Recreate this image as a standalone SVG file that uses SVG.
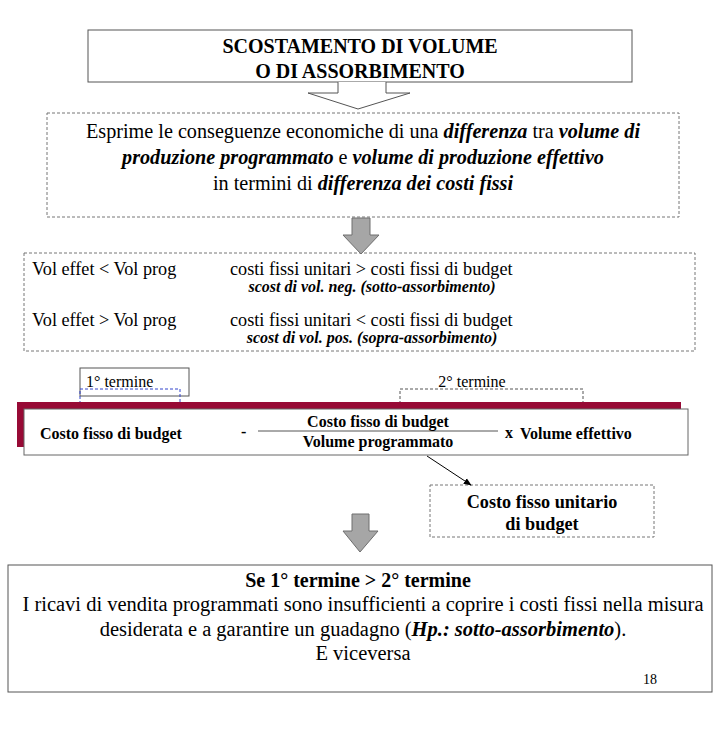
<svg xmlns="http://www.w3.org/2000/svg" width="720" height="729" viewBox="0 0 720 729">
<defs>
<style>
text{font-family:"Liberation Serif","Times New Roman",serif;fill:#000}
.b{font-weight:bold}
.bi{font-weight:bold;font-style:italic}
.c{text-anchor:middle}
.dash{fill:#fff;stroke:#777;stroke-width:1;stroke-dasharray:3,2}
.solid{fill:#fff;stroke:#555;stroke-width:1}
.garrow{fill:#a6a6a6;stroke:#6e6e6e;stroke-width:1}
</style>
<marker id="ah" viewBox="0 0 10 10" refX="9" refY="5" markerWidth="8" markerHeight="8" orient="auto">
<path d="M0,1 L10,5 L0,9 z" fill="#000"/>
</marker>
</defs>
<rect width="720" height="729" fill="#fff"/>

<g id="title">
<rect x="88" y="30" width="544" height="52" class="solid"/>
<text x="360" y="53" class="b c" font-size="20">SCOSTAMENTO DI VOLUME</text>
<text x="360" y="78" class="b c" font-size="20">O DI ASSORBIMENTO</text>
</g>

<g id="definition">
<rect x="47" y="113" width="632" height="104" class="dash"/>
<text x="363" y="138" class="c" font-size="20.2">Esprime le conseguenze economiche di una <tspan class="bi">differenza</tspan> tra <tspan class="bi">volume di</tspan></text>
<text x="363" y="164" class="c" font-size="20.2"><tspan class="bi">produzione programmato</tspan> e <tspan class="bi">volume di produzione effettivo</tspan></text>
<text x="363" y="190" class="c" font-size="20.2">in termini di <tspan class="bi">differenza dei costi fissi</tspan></text>
</g>

<g id="cases">
<rect x="24" y="253" width="671" height="98" class="dash"/>
<text x="32" y="275" font-size="18.2">Vol effet &lt; Vol prog</text>
<text x="230" y="275" font-size="18.2">costi fissi unitari &gt; costi fissi di budget</text>
<text x="372" y="292" class="bi c" font-size="16">scost di vol. neg. (sotto-assorbimento)</text>
<text x="32" y="326" font-size="18.2">Vol effet &gt; Vol prog</text>
<text x="230" y="326" font-size="18.2">costi fissi unitari &lt; costi fissi di budget</text>
<text x="372" y="343" class="bi c" font-size="16">scost di vol. pos. (sopra-assorbimento)</text>
</g>

<g id="term1">
<rect x="80" y="368" width="109" height="28" class="solid"/>
<text x="86" y="387" font-size="16">1° termine</text>
<path d="M80,404 V389 H180 V404" fill="none" stroke="#3344cc" stroke-width="1" stroke-dasharray="3,2"/>
</g>

<g id="term2">
<text x="472" y="387" class="c" font-size="16">2° termine</text>
<path d="M400,404 V389 H583 V404" fill="none" stroke="#555" stroke-width="1" stroke-dasharray="3,2"/>
</g>

<g id="formula">
<rect x="17" y="402" width="664" height="45" fill="#970a35"/>
<rect x="24" y="409" width="664" height="46" fill="#fff" stroke="#666" stroke-width="1"/>
<text x="40" y="439" class="b" font-size="16">Costo fisso di budget</text>
<text x="241" y="437" class="b" font-size="16">-</text>
<line x1="258" y1="431" x2="498" y2="431" stroke="#555" stroke-width="1"/>
<text x="378" y="427" class="b c" font-size="16">Costo fisso di budget</text>
<text x="378" y="447" class="b c" font-size="16">Volume programmato</text>
<text x="505" y="438" class="b" font-size="16">x</text>
<text x="520" y="439" class="b" font-size="16">Volume effettivo</text>
</g>

<g id="unit-cost">
<rect x="430" y="485" width="224" height="52" class="dash"/>
<text x="542" y="508" class="b c" font-size="18.2">Costo fisso unitario</text>
<text x="542" y="530" class="b c" font-size="18.2">di budget</text>
</g>

<g id="conclusion">
<rect x="8" y="565" width="704" height="127" fill="#fff" stroke="#555" stroke-width="1"/>
<text x="358" y="587" class="b c" font-size="20">Se 1° termine &gt; 2° termine</text>
<text x="363" y="611" class="c" font-size="20.5">I ricavi di vendita programmati sono insufficienti a coprire i costi fissi nella misura</text>
<text x="363" y="636" class="c" font-size="20.5">desiderata e a garantire un guadagno (<tspan class="bi">Hp.: sotto-assorbimento</tspan>).</text>
<text x="363" y="660" class="c" font-size="20.5">E viceversa</text>
<text x="643" y="684" font-size="14">18</text>
</g>

<g id="connectors">
<path d="M338,82 V93 H308 L358,109 L410,93 H386 V82" fill="#fff" stroke="#555" stroke-width="1"/>
<path d="M352,218 H370 V235 H379 L361,254 L343,235 H352 Z" class="garrow"/>
<path d="M352,514 H369 V531 H378 L360,552 L343,531 H352 Z" class="garrow"/>
<line x1="427" y1="456" x2="471" y2="485" stroke="#000" stroke-width="1" marker-end="url(#ah)"/>
</g>
</svg>
